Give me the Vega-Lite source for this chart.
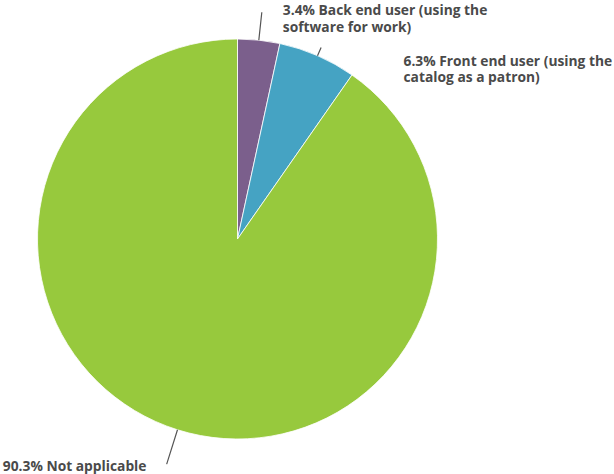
{
  "$schema": "https://vega.github.io/schema/vega-lite/v6.json",
  "width": 475,
  "height": 478,
  "autosize": {"type": "none"},
  "padding": {"left": 0, "top": 0, "right": 139, "bottom": 0},
  "background": "white",
  "view": {"stroke": null},
  "data": {
    "values": [
      {"category": "Back end user (using the software for work)", "value": 3.4, "order": 1, "label": "3.4% Back end user (using the\nsoftware for work)"},
      {"category": "Front end user (using the catalog as a patron)", "value": 6.3, "order": 2, "label": "6.3% Front end user (using the\ncatalog as a patron)"},
      {"category": "Not applicable", "value": 90.3, "order": 3, "label": "90.3% Not applicable"}
    ]
  },
  "transform": [
    {"stack": "value", "groupby": [], "sort": [{"field": "order", "order": "ascending"}], "as": ["start", "end"]},
    {"calculate": "(datum.start + datum.end) / 2", "as": "mid"}
  ],
  "layer": [
    {
      "mark": {"type": "arc", "outerRadius": 200, "stroke": "white", "strokeWidth": 0.8},
      "encoding": {
        "theta": {"field": "start", "type": "quantitative", "stack": null, "scale": {"domain": [0, 100]}},
        "theta2": {"field": "end"},
        "color": {
          "field": "category",
          "type": "nominal",
          "scale": {
            "domain": ["Back end user (using the software for work)", "Front end user (using the catalog as a patron)", "Not applicable"],
            "range": ["#7B5F8C", "#45A3C3", "#97C93D"]
          },
          "legend": null
        }
      }
    },
    {
      "transform": [{"filter": "datum.order == 1"}],
      "mark": {"type": "arc", "innerRadius": 200, "outerRadius": 228, "fill": null, "stroke": "#555555", "strokeWidth": 1.2},
      "encoding": {
        "theta": {"field": "mid", "type": "quantitative", "stack": null, "scale": {"domain": [0, 100]}},
        "theta2": {"field": "mid"}
      }
    },
    {
      "transform": [{"filter": "datum.order == 2"}],
      "mark": {"type": "arc", "innerRadius": 200, "outerRadius": 209, "fill": null, "stroke": "#555555", "strokeWidth": 1.2},
      "encoding": {
        "theta": {"field": "mid", "type": "quantitative", "stack": null, "scale": {"domain": [0, 100]}},
        "theta2": {"field": "mid"}
      }
    },
    {
      "transform": [{"filter": "datum.order == 3"}],
      "mark": {"type": "arc", "innerRadius": 200, "outerRadius": 236, "fill": null, "stroke": "#555555", "strokeWidth": 1.2},
      "encoding": {
        "theta": {"field": "mid", "type": "quantitative", "stack": null, "scale": {"domain": [0, 100]}},
        "theta2": {"field": "mid"}
      }
    },
    {
      "transform": [{"filter": "datum.order == 1"}],
      "mark": {"type": "text", "radius": 200, "align": "left", "baseline": "alphabetic", "dx": 24, "dy": -25, "lineBreak": "\n", "lineHeight": 17, "font": "Open Sans", "fontWeight": "bold", "fontSize": 13.8, "color": "#4a4a4a"},
      "encoding": {
        "theta": {"field": "mid", "type": "quantitative", "stack": null, "scale": {"domain": [0, 100]}},
        "text": {"field": "label"}
      }
    },
    {
      "transform": [{"filter": "datum.order == 2"}],
      "mark": {"type": "text", "radius": 200, "align": "left", "baseline": "alphabetic", "dx": 86, "dy": 10, "lineBreak": "\n", "lineHeight": 16.5, "font": "Open Sans", "fontWeight": "bold", "fontSize": 13.8, "color": "#4a4a4a"},
      "encoding": {
        "theta": {"field": "mid", "type": "quantitative", "stack": null, "scale": {"domain": [0, 100]}},
        "text": {"field": "label"}
      }
    },
    {
      "transform": [{"filter": "datum.order == 3"}],
      "mark": {"type": "text", "radius": 200, "align": "right", "baseline": "alphabetic", "dx": -31, "dy": 41, "lineBreak": "\n", "font": "Open Sans", "fontWeight": "bold", "fontSize": 13.8, "color": "#4a4a4a"},
      "encoding": {
        "theta": {"field": "mid", "type": "quantitative", "stack": null, "scale": {"domain": [0, 100]}},
        "text": {"field": "label"}
      }
    }
  ]
}
